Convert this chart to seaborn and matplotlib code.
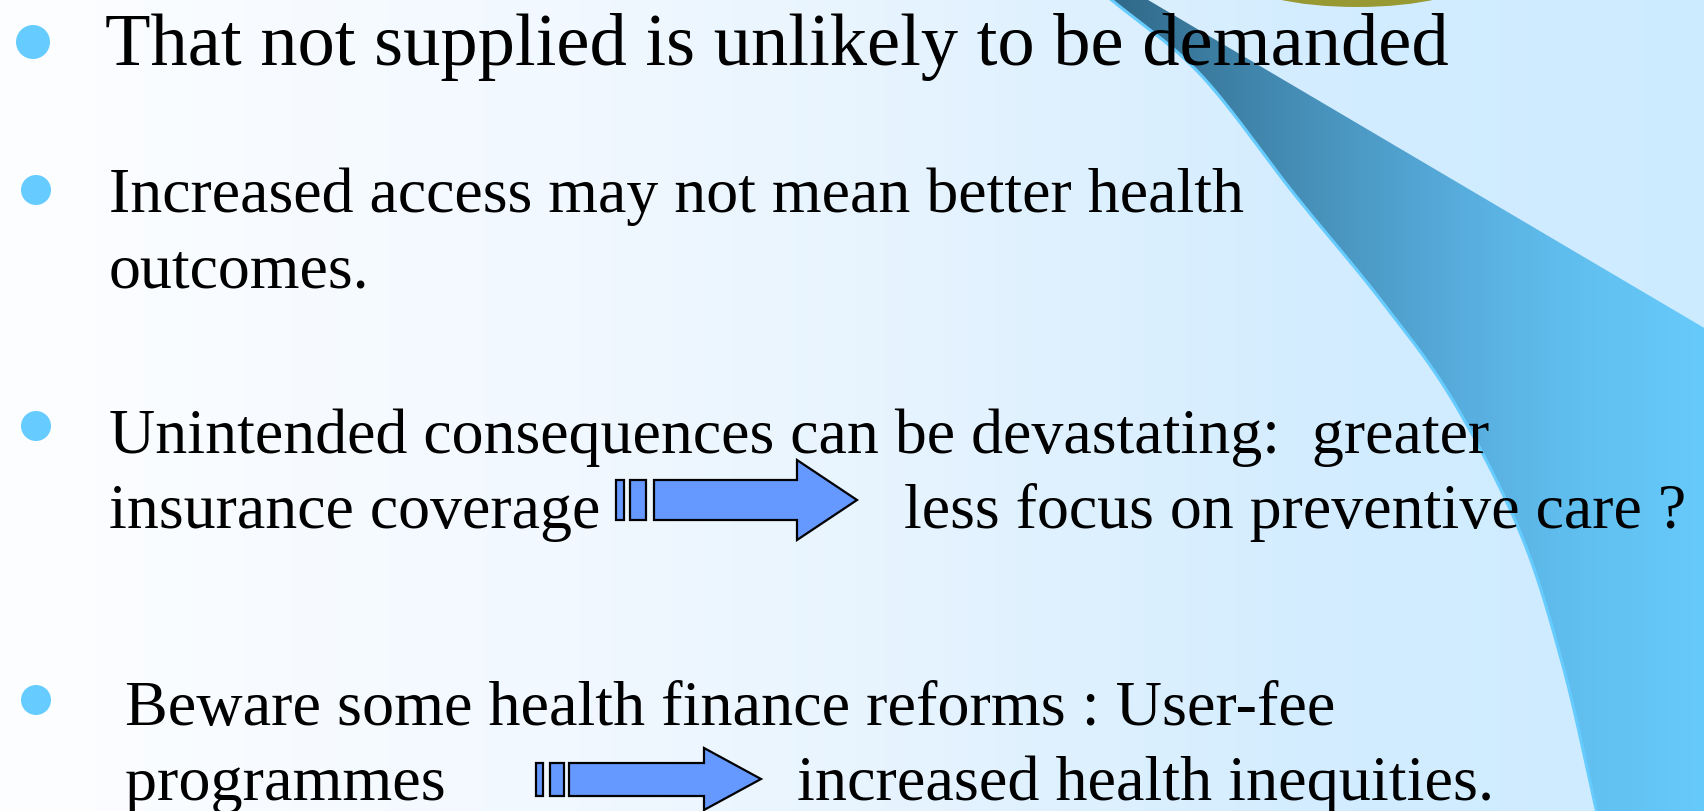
import numpy as np
import matplotlib
matplotlib.use("Agg")
import matplotlib.pyplot as plt
import seaborn as sns
from matplotlib.patches import Polygon, Circle, Ellipse, PathPatch
from matplotlib.path import Path

# ---- slide content ----
bullet_lines = [
    ["That not supplied is unlikely to be demanded"],
    ["Increased access may not mean better health", "outcomes."],
    ["Unintended consequences can be devastating:  greater", "insurance coverage"],
    ["Beware some health finance reforms : User-fee", "programmes"],
]
arrow_targets = ["less focus on preventive care ?", "increased health inequities."]

sns.set_theme(style="white")
plt.rcParams['font.family'] = ['Liberation Serif', 'DejaVu Serif']

W, H = 1704, 812
fig = plt.figure(figsize=(W / 100, H / 100), dpi=100)
ax = fig.add_axes([0, 0, 1, 1])
ax.set_xlim(0, W)
ax.set_ylim(H, 0)
ax.axis('off')

# ---- background gradient ----
def grad(stops, n):
    xs = np.linspace(0, 1, n)
    pos = [s[0] for s in stops]
    out = np.zeros((n, 3))
    for c in range(3):
        out[:, c] = np.interp(xs, pos, [s[1][c] for s in stops]) / 255.0
    return out

bg = grad([(0, (253, 254, 255)), (0.34, (241, 248, 255)), (0.52, (231, 244, 254)),
           (0.76, (212, 237, 255)), (1, (205, 235, 255))], W)
ax.imshow(bg[None, :, :], extent=[0, W, H, 0], aspect='auto', zorder=0)

# ---- swoosh shape ----
def catmull(pts, n=30):
    pts = np.array(pts, float)
    p = np.vstack([pts[0] * 2 - pts[1], pts, pts[-1] * 2 - pts[-2]])
    out = []
    for i in range(1, len(p) - 2):
        p0, p1, p2, p3 = p[i - 1], p[i], p[i + 1], p[i + 2]
        for t in np.linspace(0, 1, n, endpoint=False):
            t2, t3 = t * t, t * t * t
            out.append(0.5 * ((2 * p1) + (-p0 + p2) * t + (2 * p0 - 5 * p1 + 4 * p2 - p3) * t2
                              + (-p0 + 3 * p1 - 3 * p2 + p3) * t3))
    out.append(p[-2])
    return np.array(out)

curve = catmull([(1108, -2), (1200, 75), (1295, 196), (1380, 300), (1452, 400),
                 (1520, 533), (1563, 667), (1597, 814)])
poly = np.vstack([curve, [(W + 2, 814), (W + 2, 330), (1143, -2)]])
patch = Polygon(poly, closed=True, facecolor='none', edgecolor='none')
ax.add_patch(patch)
sw = grad([(0, (48, 104, 136)), (0.3, (68, 140, 180)), (0.6, (88, 174, 222)),
           (0.8, (97, 192, 240)), (1, (102, 202, 250))], 600)
im = ax.imshow(sw[None, :, :], extent=[1108, W, H, 0], aspect='auto', zorder=1)
im.set_clip_path(patch)
ax.plot(curve[:, 0], curve[:, 1], color='#66CCFF', lw=2.2, zorder=2)

# olive shape at top
ax.add_patch(Ellipse((1357, -20), 228, 56, facecolor='#999933', edgecolor='none', zorder=2))

# ---- bullets ----
bullet_pos = [(33, 43, 17), (36, 191, 15), (36, 427, 15), (36, 701, 15)]
for bx, by, r in bullet_pos:
    ax.add_patch(Circle((bx, by), r, facecolor='#66CCFF', edgecolor='none', zorder=3))

# ---- text ----
renderer = fig.canvas.get_renderer()
def fit_size(text, target_w, base=40.0):
    t = ax.text(0, 0, text, fontsize=base)
    w = t.get_window_extent(renderer=renderer).width
    t.remove()
    return base * target_w / w

text_x = [105, 109, 109, 125]
baselines = [[65], [212, 288], [453, 528], [725, 800]]
widths = [1340, 1133, 1378, 1207]
sizes = []
for lines, x, bls, tw in zip(bullet_lines, text_x, baselines, widths):
    fs = fit_size(lines[0], tw)
    sizes.append(fs)
    for ln, y in zip(lines, bls):
        ax.text(x, y, ln, fontsize=fs, va='baseline', ha='left', color='black', zorder=5)

ax.text(904, 528, arrow_targets[0], fontsize=sizes[2], va='baseline', ha='left', color='black', zorder=5)
ax.text(797, 800, arrow_targets[1], fontsize=sizes[3], va='baseline', ha='left', color='black', zorder=5)

# ---- striped block arrows ----
def block_arrow(b1, b2, body_x0, head_x0, tip_x, y0, y1, hy0, hy1):
    yc = (hy0 + hy1) / 2
    kw = dict(facecolor='#6699FF', edgecolor='black', lw=1.6, zorder=4, joinstyle='miter')
    for (xa, xb) in (b1, b2):
        ax.add_patch(Polygon([(xa, y0), (xb, y0), (xb, y1), (xa, y1)], closed=True, **kw))
    ax.add_patch(Polygon([(body_x0, y0), (head_x0, y0), (head_x0, hy0), (tip_x, yc),
                          (head_x0, hy1), (head_x0, y1), (body_x0, y1)], closed=True, **kw))

block_arrow((616, 624), (630, 646), 654, 797, 857, 481, 521, 461, 541)
block_arrow((536, 543), (550, 564), 569, 704, 761, 764, 797, 749, 811)

fig.savefig('out.png', dpi=100)
